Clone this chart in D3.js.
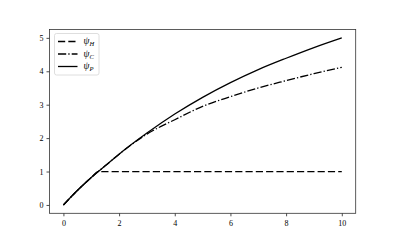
<!DOCTYPE html>
<html>
<head>
<meta charset="utf-8">
<script src="https://cdn.jsdelivr.net/npm/d3@7"></script>
<style>
  body { margin: 0; background: #fff; }
  svg { display: block; }
  text { fill: #000; }
  .tick text { font-family: "Liberation Serif", "DejaVu Serif", serif; font-size: 8px; fill: #000; }
</style>
</head>
<body>
<div id="graph"></div>
<script>
(function(){
	"use strict";

	// values
	var xs   = [0, 0.5, 1, 1.25, 1.5, 2, 3, 4, 5, 6, 7, 8, 9, 10];
	var psiP = [0, 0.43, 0.82, 1.0, 1.17, 1.52, 2.15, 2.72, 3.22, 3.66, 4.05, 4.39, 4.71, 5.0];
	var psiC = [0, 0.43, 0.82, 1.0, 1.17, 1.52, 2.12, 2.55, 2.95, 3.24, 3.5, 3.72, 3.93, 4.12];
	var psiH = [0, 0.43, 0.82, 1.0, 1, 1, 1, 1, 1, 1, 1, 1, 1, 1];
	var xTicks = [0, 2, 4, 6, 8, 10];
	var yTicks = [0, 1, 2, 3, 4, 5];

	var W = 396, H = 245;
	var margin = {top: 29.5, right: 40.3, bottom: 31.7, left: 49.5};
	var width = W - margin.left - margin.right;
	var height = H - margin.top - margin.bottom;

	var svg = d3.select("#graph").append("svg")
		.attr("width", W)
		.attr("height", H);
	var g = svg.append("g").attr("transform", "translate(" + margin.left + "," + margin.top + ")");

	var x = d3.scaleLinear().domain([-0.5, 10.5]).range([0, width]);
	var y = d3.scaleLinear().domain([-0.25, 5.25]).range([height, 0]);

	var series = [
		{name: "H", vals: psiH, dash: "7.2,3.1"},
		{name: "C", vals: psiC, dash: "8.2,2.1,1.3,2.1"},
		{name: "P", vals: psiP, dash: null}
	];

	var line = d3.line()
		.x(function(d) { return x(d[0]); })
		.y(function(d) { return y(d[1]); })
		.curve(d3.curveMonotoneX);

	series.forEach(function(s) {
		g.append("path")
			.datum(xs.map(function(v, i) { return [v, s.vals[i]]; }))
			.attr("fill", "none")
			.attr("stroke", "#000")
			.attr("stroke-width", 1.3)
			.attr("stroke-dasharray", s.dash)
			.attr("d", line);
	});

	// axes
	var xAxis = g.append("g")
		.attr("transform", "translate(0," + height + ")")
		.call(d3.axisBottom(x).tickValues(xTicks).tickSize(3).tickPadding(4).tickFormat(d3.format("d")));
	var yAxis = g.append("g")
		.call(d3.axisLeft(y).tickValues(yTicks).tickSize(3).tickPadding(3).tickFormat(d3.format("d")));
	[xAxis, yAxis].forEach(function(a) {
		a.select(".domain").remove();
		a.selectAll(".tick line").attr("stroke", "#000").attr("stroke-width", 0.7);
		a.selectAll(".tick text").attr("fill", "#000");
	});

	// frame
	g.append("rect")
		.attr("x", 0).attr("y", 0)
		.attr("width", width).attr("height", height)
		.attr("fill", "none")
		.attr("stroke", "#333")
		.attr("stroke-width", 0.8);

	// legend
	var legend = g.append("g").attr("transform", "translate(5,4)");
	legend.append("rect")
		.attr("width", 44.5).attr("height", 41.5)
		.attr("rx", 2)
		.attr("fill", "#fff")
		.attr("fill-opacity", 0.8)
		.attr("stroke", "#d6d6d6")
		.attr("stroke-width", 0.8);

	var item = legend.selectAll(".legend")
		.data(series)
		.enter().append("g")
		.attr("class", "legend")
		.attr("transform", function(d, i) { return "translate(0," + (8 + i * 12.5) + ")"; });

	item.append("line")
		.attr("x1", 3.5).attr("x2", 23)
		.attr("stroke", "#000")
		.attr("stroke-width", 1.3)
		.attr("stroke-dasharray", function(d) { return d.dash; });

	var txt = item.append("text")
		.attr("x", 29)
		.attr("dy", "0.3em")
		.attr("fill", "#000")
		.style("font-family", "'Liberation Serif', 'DejaVu Serif', serif")
		.style("font-style", "italic")
		.style("font-size", "9.5px");
	txt.append("tspan").text("ψ");
	txt.append("tspan")
		.attr("dy", "2")
		.style("font-size", "6.5px")
		.text(function(d) { return d.name; });
})();
</script>
</body>
</html>
